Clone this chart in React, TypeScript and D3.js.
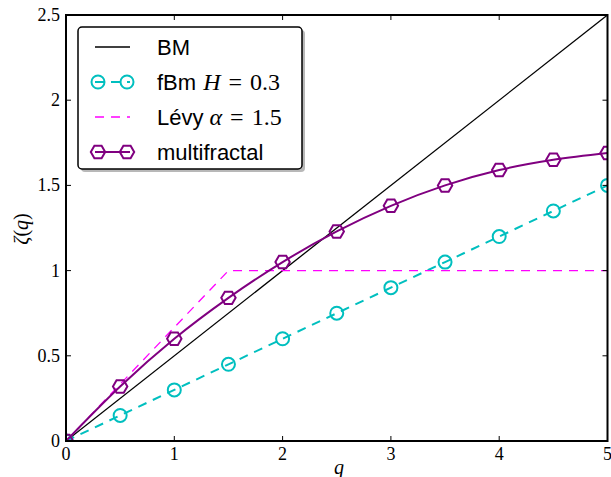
import React from "react";
import * as d3 from "d3";

const qValues = [0, 0.5, 1, 1.5, 2, 2.5, 3, 3.5, 4, 4.5, 5];
const bmQ = [0, 5];
const bmZeta = [0, 2.5];
const fbmZeta = [0, 0.15, 0.3, 0.45, 0.6, 0.75, 0.9, 1.05, 1.2, 1.35, 1.5];
const levyQ = [0, 1.5, 5];
const levyZeta = [0, 1, 1];
const multiZeta = [0, 0.32, 0.6, 0.84, 1.05, 1.23, 1.38, 1.5, 1.59, 1.65, 1.69];
const xTicks = [0, 1, 2, 3, 4, 5];
const yTicks = [0, 0.5, 1, 1.5, 2, 2.5];
const yTickLabels = ["0", "0.5", "1", "1.5", "2", "2.5"];

const W = 611, H = 477;
const L = 66, R = 607.5, T = 15, B = 441;
const CYAN = "#00bfbf", MAG = "#ff00ff", PURP = "#800080";
const SERIF = "'Liberation Serif', 'DejaVu Serif', serif";
const SANS = "'Liberation Sans', Arial, sans-serif";

function hexPath(cx: number, cy: number, r: number) {
  const pts: string[] = [];
  for (let i = 0; i < 6; i++) {
    const a = (Math.PI / 3) * i;
    pts.push(`${cx + r * Math.cos(a)},${cy + r * Math.sin(a)}`);
  }
  return "M" + pts.join("L") + "Z";
}

export default function App() {
  const x = d3.scaleLinear().domain([0, 5]).range([L, R]);
  const y = d3.scaleLinear().domain([0, 2.5]).range([B, T]);
  const line = d3.line<[number, number]>().x((d) => x(d[0])).y((d) => y(d[1]));
  const smooth = d3
    .line<[number, number]>()
    .x((d) => x(d[0]))
    .y((d) => y(d[1]))
    .curve(d3.curveMonotoneX);

  const bm = bmQ.map((q, i) => [q, bmZeta[i]] as [number, number]);
  const fbm = qValues.map((q, i) => [q, fbmZeta[i]] as [number, number]);
  const levy = levyQ.map((q, i) => [q, levyZeta[i]] as [number, number]);
  const multi = qValues.map((q, i) => [q, multiZeta[i]] as [number, number]);

  const tickLen = 5;
  const dash = "9 7";

  const legY = [47, 82, 117, 152];
  const lx0 = 95, lx1 = 130, tx = 157;

  return (
    <svg width={W} height={H} style={{ position: "absolute", left: 0, top: 0, background: "#fff" }}>
      <defs>
        <clipPath id="plotclip">
          <rect x={L} y={T} width={R - L} height={B - T} />
        </clipPath>
      </defs>
      <rect x={0} y={0} width={W} height={H} fill="#fff" />
      <g clipPath="url(#plotclip)">
        <path d={line(bm) || ""} fill="none" stroke="#000" strokeWidth={1.3} />
        <path d={line(fbm) || ""} fill="none" stroke={CYAN} strokeWidth={2} strokeDasharray={dash} />
        <path d={line(levy) || ""} fill="none" stroke={MAG} strokeWidth={1.3} strokeDasharray={dash} />
        <path d={smooth(multi) || ""} fill="none" stroke={PURP} strokeWidth={2} />
        {fbm.map((d, i) => (
          <circle key={"c" + i} cx={x(d[0])} cy={y(d[1])} r={6.5} fill="none" stroke={CYAN} strokeWidth={2} />
        ))}
        {multi.map((d, i) => (
          <path key={"h" + i} d={hexPath(x(d[0]), y(d[1]), 7.2)} fill="none" stroke={PURP} strokeWidth={2} />
        ))}
      </g>
      {xTicks.map((t) => (
        <g key={"xt" + t}>
          <line x1={x(t)} x2={x(t)} y1={B} y2={B - tickLen} stroke="#000" strokeWidth={1} />
          <line x1={x(t)} x2={x(t)} y1={T} y2={T + tickLen} stroke="#000" strokeWidth={1} />
          <text x={x(t)} y={460} textAnchor="middle" fontFamily={SERIF} fontSize={18}>
            {t}
          </text>
        </g>
      ))}
      {yTicks.map((t, i) => (
        <g key={"yt" + t}>
          <line x1={L} x2={L + tickLen} y1={y(t)} y2={y(t)} stroke="#000" strokeWidth={1} />
          <line x1={R} x2={R - tickLen} y1={y(t)} y2={y(t)} stroke="#000" strokeWidth={1} />
          <text x={60} y={y(t) + 6} textAnchor="end" fontFamily={SERIF} fontSize={18}>
            {yTickLabels[i]}
          </text>
        </g>
      ))}
      <rect x={L} y={T} width={R - L} height={B - T} fill="none" stroke="#000" strokeWidth={2} />
      <text x={339} y={474} textAnchor="middle" fontFamily={SERIF} fontStyle="italic" fontSize={20}>
        q
      </text>
      <text transform="translate(28,229) rotate(-90)" textAnchor="middle" fontFamily={SERIF} fontSize={20}>
        <tspan fontStyle="italic">ζ</tspan>(<tspan fontStyle="italic">q</tspan>)
      </text>
      <rect x={81} y={30} width={224} height={142} rx={4} fill="#b8b8b8" />
      <rect x={78} y={27} width={224} height={142} rx={4} fill="#fff" stroke="#000" strokeWidth={1.5} />
      <line x1={lx0} x2={lx1} y1={legY[0]} y2={legY[0]} stroke="#000" strokeWidth={1.3} />
      <text x={tx} y={legY[0] + 8} fontFamily={SANS} fontSize={22}>BM</text>
      <line x1={lx0} x2={lx1} y1={legY[1]} y2={legY[1]} stroke={CYAN} strokeWidth={2} strokeDasharray={dash} />
      <circle cx={lx0 + 3} cy={legY[1]} r={6.5} fill="none" stroke={CYAN} strokeWidth={2} />
      <circle cx={lx1 - 3} cy={legY[1]} r={6.5} fill="none" stroke={CYAN} strokeWidth={2} />
      <text x={tx} y={legY[1] + 8} fontFamily={SANS} fontSize={22}>
        {"fBm"}
        <tspan fontFamily={SERIF} fontStyle="italic" fontSize={24} dx={7}>H</tspan>
        <tspan fontFamily={SERIF} fontSize={24} dx={8}>=</tspan>
        <tspan fontFamily={SERIF} fontSize={24} dx={8}>0.3</tspan>
      </text>
      <line x1={lx0} x2={lx1} y1={legY[2]} y2={legY[2]} stroke={MAG} strokeWidth={1.3} strokeDasharray={dash} />
      <text x={tx} y={legY[2] + 8} fontFamily={SANS} fontSize={22}>
        {"Lévy"}
        <tspan fontFamily={SERIF} fontStyle="italic" fontSize={24} dx={6}>α</tspan>
        <tspan fontFamily={SERIF} fontSize={24} dx={8}>=</tspan>
        <tspan fontFamily={SERIF} fontSize={24} dx={8}>1.5</tspan>
      </text>
      <line x1={lx0} x2={lx1} y1={legY[3]} y2={legY[3]} stroke={PURP} strokeWidth={2} />
      <path d={hexPath(lx0 + 3, legY[3], 7.2)} fill="none" stroke={PURP} strokeWidth={2} />
      <path d={hexPath(lx1 - 3, legY[3], 7.2)} fill="none" stroke={PURP} strokeWidth={2} />
      <text x={tx} y={legY[3] + 8} fontFamily={SANS} fontSize={22}>multifractal</text>
    </svg>
  );
}
